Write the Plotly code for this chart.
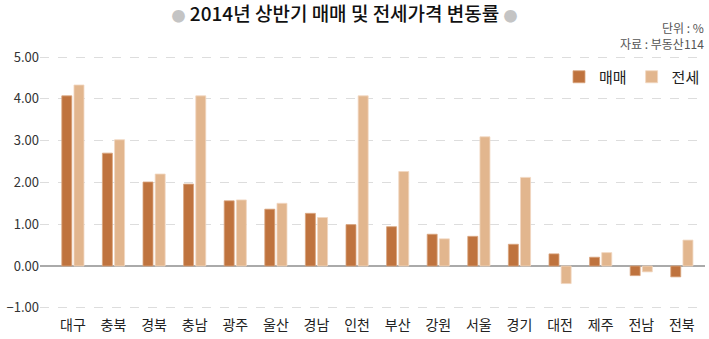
import plotly.graph_objects as go

regions = ["대구", "충북", "경북", "충남", "광주", "울산", "경남", "인천",
           "부산", "강원", "서울", "경기", "대전", "제주", "전남", "전북"]
sale_change = [4.07, 2.70, 2.01, 1.96, 1.56, 1.36, 1.26, 0.99,
               0.94, 0.76, 0.71, 0.52, 0.29, 0.21, -0.23, -0.26]
jeonse_change = [4.33, 3.02, 2.20, 4.07, 1.58, 1.50, 1.16, 4.07,
                 2.26, 0.65, 3.09, 2.12, -0.42, 0.32, -0.14, 0.62]

FONT = "Noto Sans CJK KR"
SALE_COLOR = "#bf733e"
JEONSE_COLOR = "#e2b68e"

# plot area spans pixel rows 45..315
PLOT_TOP, PLOT_BOTTOM = 45, 315


def paper_y(px):
    return (PLOT_BOTTOM - px) / (PLOT_BOTTOM - PLOT_TOP)


DOT = "<span style='color:#c4c4c4;font-size:14px'>●</span>"

fig = go.Figure()
fig.add_trace(go.Bar(
    name="매매", x=regions, y=sale_change,
    marker=dict(color=SALE_COLOR, line=dict(color="#d9a47e", width=0.8)),
))
fig.add_trace(go.Bar(
    name="전세", x=regions, y=jeonse_change,
    marker=dict(color=JEONSE_COLOR, line=dict(color="#f1d7c0", width=0.8)),
))

fig.update_layout(
    width=709, height=339,
    margin=dict(l=40, r=4, t=PLOT_TOP, b=339 - PLOT_BOTTOM),
    paper_bgcolor="white", plot_bgcolor="white",
    barmode="group", bargap=0.40, bargroupgap=0.18,
    font=dict(family=FONT, color="#333"),
    title=dict(
        text=f"{DOT} 2014년 상반기 매매 및 전세가격 변동률 {DOT}",
        x=0.486, xref="container", xanchor="center",
        y=1 - 14 / 339, yref="container", yanchor="middle",
        font=dict(family=FONT, size=19, color="#111", weight=500),
    ),
    legend=dict(
        orientation="h", x=1.0, xanchor="right", y=paper_y(77), yanchor="middle",
        font=dict(family=FONT, size=15, color="#222"),
        bgcolor="rgba(0,0,0,0)", itemwidth=30, traceorder="normal",
        tracegroupgap=0,
    ),
    xaxis=dict(
        type="category", range=[-0.81, 15.57],
        showgrid=False, showline=False, ticks="",
        tickfont=dict(family=FONT, size=14, color="#222"),
    ),
    yaxis=dict(
        range=[-1.172, 5.287], tickvals=[-1, 0, 1, 2, 3, 4, 5],
        tickformat=".2f",
        showgrid=True, gridcolor="#dddddd", griddash="dash", gridwidth=1,
        zeroline=True, zerolinecolor="#aaaaaa", zerolinewidth=2,
        showline=False, ticks="",
        tickfont=dict(family=FONT, size=13, color="#333"),
    ),
    annotations=[
        dict(text="단위 : %<br>자료 : 부동산114", xref="paper", yref="paper",
             x=1.0, y=paper_y(35), xanchor="right", yanchor="middle", align="right",
             showarrow=False, borderpad=0,
             font=dict(family=FONT, size=12, color="#555")),
    ],
)

fig.write_html("out.html")
